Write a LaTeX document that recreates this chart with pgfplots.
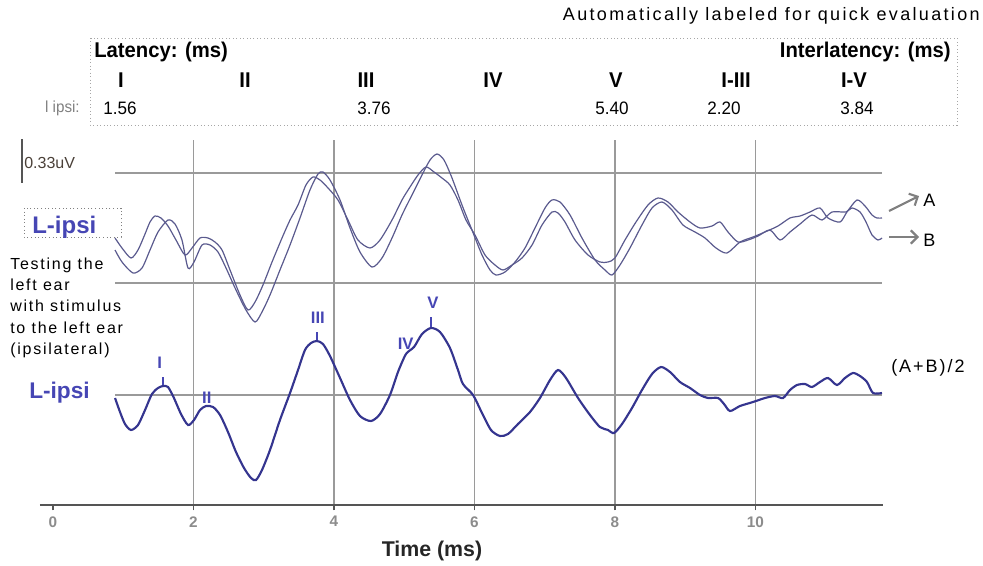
\documentclass[border=0pt]{standalone}
\usepackage{fontspec}
\setmainfont{Liberation Sans}
\newfontfamily\annot[LetterSpace=11]{Liberation Sans}
\newfontfamily\annotw[LetterSpace=13]{Liberation Sans}
\newfontfamily\tabfont[FakeStretch=0.95]{Liberation Sans}
\usepackage{pgfplots}
\pgfplotsset{compat=1.18}
\usetikzlibrary{arrows.meta}
\definecolor{gridc}{HTML}{9A9A9A}
\definecolor{axisc}{HTML}{555555}
\definecolor{waveA}{HTML}{5A5A8E}
\definecolor{waveAvg}{HTML}{35358F}
\definecolor{lblue}{HTML}{4646B4}
\definecolor{scalec}{HTML}{4A4038}
\begin{document}
\begin{tikzpicture}[x=0.75pt,y=-0.75pt]
\path[use as bounding box] (0,0) rectangle (983,565);
% ---------- overlay texts ----------
\node[anchor=east,inner sep=0pt] at (980,16) {\annotw\fontsize{13.5pt}{15pt}\selectfont Automatically labeled for quick evaluation};
\draw[gray!70,dotted,line width=0.6pt] (90,38) rectangle (957,125);
\begin{scope}[every node/.style={inner sep=0pt}]
\node[anchor=west] at (94,52) {\tabfont\bfseries\fontsize{16pt}{18pt}\selectfont Latency: (ms)};
\node[anchor=east] at (951,52) {\tabfont\bfseries\fontsize{16pt}{18pt}\selectfont Interlatency: (ms)};
\foreach \xx/\tt in {121/I,245/II,366/III,493/IV,616/V,736/I-III,854/I-V}
  \node at (\xx,80) {\tabfont\bfseries\fontsize{16pt}{18pt}\selectfont \tt};
\node[anchor=east,text=gray] at (80,108) {\tabfont\fontsize{12pt}{14pt}\selectfont l ipsi:};
\foreach \xx/\tt in {120/1.56,374/3.76,612/5.40,724/2.20,857/3.84}
  \node at (\xx,108) {\tabfont\fontsize{13.5pt}{16pt}\selectfont \tt};
\end{scope}
% scale bar
\draw[axisc,line width=2.2pt] (22,139) -- (22,183);
\node[anchor=west,inner sep=0pt,text=scalec] at (24,163) {\fontsize{12pt}{14pt}\selectfont 0.33uV};
% L-ipsi box
\draw[gray,dotted,line width=0.7pt] (24,208) rectangle (121,237);
\node[anchor=west,inner sep=0pt,text=lblue] at (32,227) {\bfseries\fontsize{18pt}{20pt}\selectfont L-ipsi};
\node[anchor=west,inner sep=0pt,text=lblue] at (29,393) {\bfseries\fontsize{17pt}{19pt}\selectfont L-ipsi};
\foreach \yy/\tt in {265/Testing the,285/left ear,306/with stimulus,328/to the left ear,350/(ipsilateral)}
  \node[anchor=west,inner sep=0pt] at (10,\yy) {\annot\fontsize{12pt}{14pt}\selectfont \tt};
% right annotations
\draw[-{Straight Barb[length=5pt,width=10pt]},gray,line width=1.6pt] (889,211) -- (919,196);
\draw[-{Straight Barb[length=5pt,width=10pt]},gray,line width=1.6pt] (889,237) -- (919,237);
\node[anchor=west,inner sep=0pt] at (923,200) {\annot\fontsize{13.5pt}{15pt}\selectfont A};
\node[anchor=west,inner sep=0pt] at (923,240) {\annot\fontsize{13.5pt}{15pt}\selectfont B};
\node[anchor=west,inner sep=0pt] at (891,368) {\annot\fontsize{13.5pt}{15pt}\selectfont (A+B)/2};
\node[inner sep=0pt,text=black!85] at (432,551) {\bfseries\fontsize{16pt}{18pt}\selectfont Time (ms)};
% ---------- axis ----------
\begin{axis}[at={(30pt,-378.75pt)},anchor=south west,scale only axis,
  width=632.25pt,height=273.75pt,
  xmin=-0.185,xmax=11.815,ymin=60,ymax=425,
  axis x line=bottom,axis y line=none,
  axis line style={-,draw=axisc,line width=1.5pt},
  xtick={2,4,6,8,10},extra x ticks={0},extra x tick style={grid=none},
  xmajorgrids,grid style={gridc,line width=0.9pt},
  ytick=\empty,
  tick align=outside,major tick length=4pt,
  tick style={draw=axisc,line width=1pt},
  /pgf/number format/assume math mode=true,
  xticklabel style={font=\bfseries\fontsize{11.5pt}{13pt}\selectfont,text=gray!90,yshift=-1pt},
  clip=false]
% horizontal grid lines
\addplot[gridc,line width=0.9pt] coordinates {(0.883,392)(11.801,392)};
\addplot[gridc,line width=0.9pt] coordinates {(0.883,282)(11.801,282)};
\addplot[gridc,line width=0.9pt] coordinates {(0.883,170)(11.801,170)};
% trace B (upper group)
\addplot[waveA,line width=0.9pt,smooth,tension=0.45] coordinates {
(0.883,327)(0.982,317)(1.110,307)(1.210,315)(1.310,331)(1.381,343)(1.452,349)(1.537,347)(1.637,339)(1.751,325)
(1.879,310)(1.979,317)(2.093,327)(2.206,327)(2.306,323)(2.406,315)(2.520,295)(2.662,270)(2.776,255)(2.876,263)
(2.989,280)(3.118,303)(3.260,327)(3.374,345)(3.488,360)(3.601,380)(3.701,388)(3.801,385)(3.915,377)(4.057,365)
(4.199,345)(4.341,325)(4.512,317)(4.655,325)(4.826,345)(4.968,365)(5.082,378)(5.196,390)(5.310,398)(5.424,393)
(5.537,387)(5.651,380)(5.765,365)(5.879,345)(6.007,330)(6.150,310)(6.292,300)(6.406,295)(6.534,300)(6.676,307)
(6.819,320)(6.961,340)(7.103,353)(7.189,352)(7.288,343)(7.431,325)(7.616,310)(7.786,303)(7.900,303)(7.999,307)
(8.142,325)(8.299,343)(8.470,360)(8.612,367)(8.754,363)(8.897,353)(9.068,343)(9.210,337)(9.381,339)(9.495,343)
(9.608,333)(9.751,323)(9.894,325)(10.036,329)(10.206,335)(10.349,325)(10.491,333)(10.634,341)(10.804,350)(10.947,345)
(11.089,353)(11.288,353)(11.374,357)(11.488,353)(11.573,343)(11.659,330)(11.744,325)(11.801,327)};
% trace A (upper group)
\addplot[waveA,line width=0.9pt,smooth,tension=0.45] coordinates {
(0.883,315)(0.982,303)(1.139,292)(1.267,297)(1.381,315)(1.495,333)(1.637,345)(1.737,341)(1.836,325)(1.922,297)
(2.007,303)(2.121,320)(2.235,320)(2.349,313)(2.463,297)(2.605,275)(2.747,255)(2.876,243)(2.975,253)(3.089,270)
(3.231,295)(3.374,320)(3.516,347)(3.658,375)(3.772,391)(3.843,393)(3.943,385)(4.086,365)(4.228,337)(4.370,313)
(4.541,298)(4.683,307)(4.826,327)(4.968,350)(5.110,370)(5.253,390)(5.367,405)(5.467,411)(5.566,405)(5.680,387)
(5.822,360)(5.964,335)(6.107,310)(6.221,295)(6.306,290)(6.434,293)(6.577,303)(6.719,317)(6.861,337)(7.004,357)
(7.103,365)(7.217,363)(7.360,350)(7.530,327)(7.716,305)(7.858,295)(7.957,290)(8.071,300)(8.213,317)(8.384,340)
(8.527,357)(8.669,363)(8.811,355)(8.968,340)(9.139,333)(9.281,327)(9.438,317)(9.594,312)(9.780,323)(9.965,328)
(10.135,333)(10.320,339)(10.491,347)(10.634,349)(10.776,353)(10.918,357)(11.032,347)(11.203,343)(11.302,353)(11.445,365)
(11.559,359)(11.659,350)(11.729,347)(11.801,347)};
% average (A+B)/2
\addplot[waveAvg,line width=1.6pt,smooth,tension=0.45] coordinates {
(0.883,167)(0.954,153)(1.025,141)(1.110,135)(1.210,140)(1.310,155)(1.409,171)(1.495,177)(1.566,179)(1.637,178)
(1.722,167)(1.822,151)(1.922,140)(2.007,145)(2.093,155)(2.178,159)(2.278,158)(2.378,150)(2.491,133)(2.605,113)
(2.719,97)(2.819,87)(2.890,85)(2.975,95)(3.089,115)(3.231,145)(3.374,172)(3.488,195)(3.587,215)(3.673,222)
(3.758,224)(3.843,221)(3.943,209)(4.086,187)(4.228,165)(4.370,149)(4.527,144)(4.655,151)(4.797,170)(4.911,193)
(5.025,211)(5.139,218)(5.253,231)(5.381,237)(5.509,233)(5.651,217)(5.765,195)(5.836,181)(5.979,170)(6.107,152)
(6.235,135)(6.363,129)(6.477,131)(6.619,141)(6.790,153)(6.932,167)(7.075,185)(7.189,195)(7.303,187)(7.474,167)
(7.644,150)(7.786,138)(7.900,135)(7.986,132)(8.100,141)(8.242,157)(8.384,175)(8.527,191)(8.655,198)(8.783,193)
(8.925,183)(9.068,177)(9.210,170)(9.324,167)(9.466,167)(9.552,161)(9.637,154)(9.780,159)(9.965,163)(10.135,167)
(10.278,169)(10.392,167)(10.491,175)(10.591,180)(10.705,181)(10.804,178)(10.918,183)(11.032,187)(11.160,180)(11.274,187)
(11.388,192)(11.488,189)(11.587,183)(11.673,172)(11.801,172)};
% peak markers
\draw[lblue,line width=1pt] (axis cs:1.566,180) -- (axis cs:1.566,188);
\draw[lblue,line width=1pt] (axis cs:3.758,225) -- (axis cs:3.758,233);
\draw[lblue,line width=1pt] (axis cs:5.381,238) -- (axis cs:5.381,248);
\begin{scope}[every node/.style={text=lblue,inner sep=0pt,font=\bfseries\fontsize{12.5pt}{14pt}\selectfont}]
\node at (axis cs:1.52,202) {I};
\node at (axis cs:2.19,167) {II};
\node at (axis cs:3.77,247) {III};
\node at (axis cs:5.02,221) {IV};
\node at (axis cs:5.41,262) {V};
\end{scope}
\end{axis}
\end{tikzpicture}
\end{document}
